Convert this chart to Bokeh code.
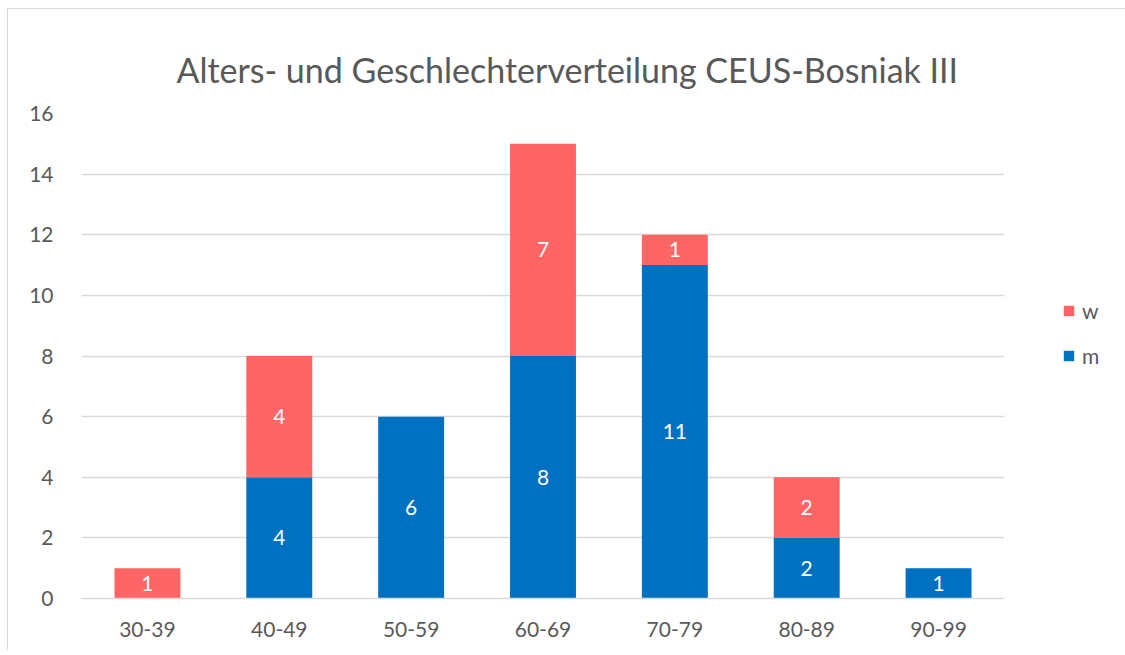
from bokeh.plotting import figure
from bokeh.models import ColumnDataSource, FixedTicker, Legend, LegendItem, LabelSet, Range1d
from bokeh.core.properties import value
from bokeh.embed import file_html
from bokeh.resources import INLINE

categories = ["30-39", "40-49", "50-59", "60-69", "70-79", "80-89", "90-99"]
m_values = [0, 4, 6, 8, 11, 2, 1]
w_values = [1, 4, 0, 7, 1, 2, 0]
y_ticks = [0, 2, 4, 6, 8, 10, 12, 14, 16]

RED = "#FF6565"
BLUE = "#0070C0"
GRAY = "#595959"
GRID = "#D9D9D9"
FONT = "Lato"

src = ColumnDataSource(dict(cat=categories, m=m_values, w=w_values))

p = figure(x_range=categories, y_range=Range1d(0, 16),
           frame_width=923, frame_height=485,
           output_backend="svg", toolbar_location=None,
           min_border_left=81, min_border_right=118, min_border_top=113, min_border_bottom=52)

p.title.text = "Alters- und Geschlechterverteilung CEUS-Bosniak III"
p.title.text_font = FONT
p.title.text_font_size = "34px"
p.title.text_font_style = "normal"
p.title.text_color = GRAY
p.title.align = "left"
p.title.offset = 95
p.title.standoff = 47

rs = p.vbar_stack(["m", "w"], x="cat", width=0.5, color=[BLUE, RED], line_color=None, source=src)

# data labels
lx, ly, lt = [], [], []
for c, m, w in zip(categories, m_values, w_values):
    if m > 0:
        lx.append(c); ly.append(m / 2); lt.append(str(m))
    if w > 0:
        lx.append(c); ly.append(m + w / 2); lt.append(str(w))
lsrc = ColumnDataSource(dict(x=lx, y=ly, t=lt))
p.add_layout(LabelSet(x="x", y="y", text="t", source=lsrc, text_color="white",
                      text_font=value(FONT), text_font_size="21px", text_align="center",
                      text_baseline="middle"))

p.yaxis.ticker = FixedTicker(ticks=y_ticks)
p.yaxis.axis_line_color = None
p.yaxis.major_tick_line_color = None
p.yaxis.minor_tick_line_color = None
p.yaxis.major_label_standoff = 22
p.xaxis.axis_line_color = GRID
p.xaxis.axis_line_width = 1.5
p.xaxis.major_tick_line_color = None
p.xaxis.minor_tick_line_color = None
p.xaxis.major_label_standoff = 17
for ax in (p.xaxis, p.yaxis):
    ax.major_label_text_font = FONT
    ax.major_label_text_font_size = "21px"
    ax.major_label_text_color = GRAY

p.xgrid.grid_line_color = None
p.ygrid.grid_line_color = GRID
p.ygrid.grid_line_width = 1.5
p.ygrid.ticker = FixedTicker(ticks=y_ticks)
p.outline_line_color = None
p.x_range.range_padding = 0.0

legend = Legend(items=[LegendItem(label="w", renderers=[rs[1]]),
                       LegendItem(label="m", renderers=[rs[0]])],
                location=(58, 230), padding=0, spacing=20, glyph_width=13, glyph_height=13,
                label_height=21, label_text_font=FONT, label_text_font_size="21px",
                label_text_color=GRAY, border_line_color=None, background_fill_alpha=0,
                label_standoff=7, margin=0)
p.add_layout(legend, "right")

# chart-area border (top and left edges), drawn behind the transparent plot border
p.border_fill_color = None
p.styles = {
    "background": "linear-gradient(#D9D9D9, #D9D9D9) no-repeat 7px 8px / 100% 1px, "
                  "linear-gradient(#D9D9D9, #D9D9D9) no-repeat 7px 8px / 1px 100%, #FFFFFF"
}

open("out.html", "w").write(file_html(p, INLINE))
